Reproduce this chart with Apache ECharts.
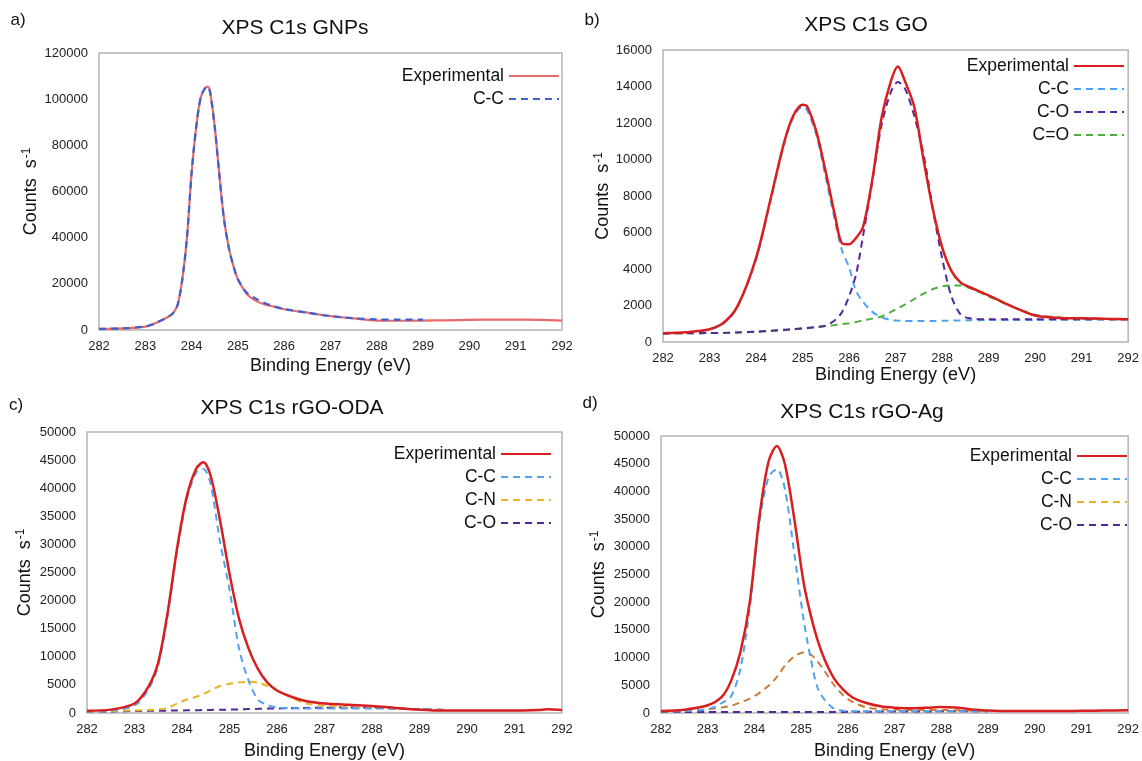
<!DOCTYPE html>
<html><head><meta charset="utf-8">
<script src="https://cdn.jsdelivr.net/npm/echarts@6/dist/echarts.min.js"></script>
<style>html,body{margin:0;padding:0;background:#fff}#c{width:1142px;height:761px}</style>
</head><body><div id="c"></div>
<script>
// ---------- Panel a : XPS C1s GNPs ----------
const aX   = [282, 282.5, 283, 283.2, 283.4, 283.5, 283.6, 283.7, 283.8, 283.9, 284.0, 284.1, 284.2, 284.3, 284.35, 284.4, 284.5, 284.6, 284.7, 284.8, 284.9, 285.0, 285.2, 285.4, 285.6, 285.8, 286, 286.5, 287, 287.5, 288, 288.5, 289, 289.5, 290, 290.5, 291, 291.5, 292];
const aExp = [500, 700, 1500, 2800, 4700, 5800, 7300, 11000, 22000, 40000, 68000, 88000, 101000, 105000, 105300, 103000, 88000, 67000, 48000, 36000, 28000, 22000, 15500, 12500, 11000, 10000, 9000, 7500, 6000, 5000, 4100, 4000, 4100, 4200, 4400, 4500, 4500, 4400, 4100];
const aCCX = [282, 282.5, 283, 283.2, 283.4, 283.5, 283.6, 283.7, 283.8, 283.9, 284.0, 284.1, 284.2, 284.3, 284.35, 284.4, 284.5, 284.6, 284.7, 284.8, 284.9, 285.0, 285.2, 285.4, 285.6, 285.8, 286, 286.5, 287, 287.5, 288, 288.5, 289];
const aCC  = [500, 700, 1500, 2800, 4700, 5800, 7300, 11000, 22000, 40000, 68000, 88000, 101000, 105000, 105300, 103000, 88000, 67000, 48000, 36000, 28000, 22000, 16000, 13500, 11500, 10200, 9100, 7500, 6000, 5100, 4600, 4500, 4500];

// ---------- Panel b : XPS C1s GO ----------
const bX   = [282, 282.5, 283, 283.3, 283.6, 284, 284.3, 284.6, 284.8, 285, 285.1, 285.3, 285.5, 285.7, 285.85, 286, 286.15, 286.3, 286.5, 286.7, 286.9, 287.05, 287.2, 287.4, 287.6, 287.8, 288, 288.2, 288.4, 288.6, 289, 289.5, 290, 290.5, 291, 291.5, 292];
const bExp = [480, 540, 700, 1050, 1950, 4600, 7700, 10900, 12400, 13000, 12900, 11500, 9300, 6900, 5400, 5350, 5700, 6300, 8900, 12300, 14300, 15100, 14300, 12900, 10000, 7300, 5200, 3900, 3250, 3000, 2550, 1950, 1450, 1320, 1300, 1270, 1250];
const bCC  = [470, 510, 680, 1000, 1900, 4500, 7600, 10800, 12300, 12900, 12700, 11300, 9000, 6600, 5000, 4100, 2800, 2200, 1650, 1350, 1200, 1170, 1150, 1150, 1150, 1150, 1160, 1170, 1180, 1190, 1200, 1200, 1210, 1220, 1220, 1230, 1230];
const bCO  = [470, 480, 490, 500, 520, 570, 610, 670, 710, 750, 770, 820, 900, 1200, 1650, 2500, 3700, 5800, 8800, 11900, 13700, 14250, 13900, 12400, 10300, 7300, 4600, 2500, 1500, 1300, 1250, 1250, 1250, 1250, 1250, 1250, 1250];
const bCdO = [470, 480, 490, 500, 520, 560, 600, 650, 690, 730, 750, 810, 870, 930, 980, 1030, 1100, 1180, 1280, 1400, 1650, 1850, 2050, 2350, 2650, 2900, 3050, 3100, 3100, 2950, 2500, 1950, 1500, 1350, 1300, 1270, 1250];

// ---------- Panel c : XPS C1s rGO-ODA ----------
const cX   = [282, 282.5, 283, 283.3, 283.5, 283.7, 283.9, 284.1, 284.3, 284.45, 284.6, 284.8, 285, 285.2, 285.4, 285.6, 285.8, 286, 286.3, 286.6, 287, 287.5, 288, 288.5, 289, 289.5, 290, 290.5, 291, 291.5, 291.7, 292];
const cExp = [400, 600, 1700, 4800, 9000, 18000, 29500, 38500, 43500, 44600, 42300, 34300, 24800, 16800, 11500, 7800, 5400, 4000, 2900, 2150, 1700, 1450, 1250, 900, 600, 450, 450, 450, 450, 550, 650, 550];
const cCX  = [282, 282.5, 283, 283.3, 283.5, 283.7, 283.9, 284.1, 284.3, 284.45, 284.6, 284.8, 285, 285.2, 285.4, 285.6, 285.8, 286, 286.3, 286.6, 287, 287.5, 288, 288.5, 289, 289.5];
const cCC  = [300, 450, 1300, 4300, 8500, 17500, 29000, 38000, 42800, 43400, 40800, 30500, 22000, 11500, 5800, 2400, 1400, 1000, 850, 800, 800, 800, 800, 750, 700, 600];
const cCN  = [300, 350, 450, 550, 650, 900, 1700, 2400, 2900, 3400, 4000, 4800, 5200, 5450, 5550, 5400, 4800, 4000, 2750, 1750, 1300, 1000, 850, 750, 700, 600];
const cCO  = [250, 280, 350, 380, 400, 420, 440, 470, 500, 520, 550, 580, 600, 650, 700, 740, 780, 800, 850, 900, 950, 980, 1000, 850, 650, 500];

// ---------- Panel d : XPS C1s rGO-Ag ----------
const dX   = [282, 282.5, 283, 283.3, 283.5, 283.7, 283.9, 284.1, 284.3, 284.48, 284.65, 284.85, 285.05, 285.2, 285.35, 285.5, 285.7, 285.9, 286.1, 286.4, 286.7, 287, 287.4, 287.7, 288, 288.3, 288.6, 289, 289.5, 290, 290.5, 291, 291.5, 292];
const dExp = [360, 600, 1400, 2900, 5800, 11000, 20000, 35000, 45300, 48200, 45000, 35200, 23700, 17800, 13200, 9700, 6300, 4200, 2800, 1800, 1200, 950, 850, 950, 1100, 1000, 700, 450, 350, 350, 350, 400, 450, 500];
const dCX  = [282, 282.5, 283, 283.3, 283.5, 283.7, 283.9, 284.1, 284.3, 284.48, 284.65, 284.85, 285.05, 285.2, 285.35, 285.5, 285.7, 285.9, 286.1, 286.4, 286.7, 287, 287.4, 287.7, 288, 288.3, 288.6, 289];
const dCC  = [250, 350, 700, 1800, 3000, 8000, 19000, 34000, 42500, 44000, 40500, 29000, 17000, 10000, 4600, 2400, 800, 400, 300, 300, 300, 300, 300, 300, 300, 300, 300, 300];
const dCN  = [250, 350, 650, 1000, 1300, 1900, 2600, 3600, 4900, 6500, 8500, 10200, 10900, 10600, 9300, 7600, 5100, 3200, 2000, 1000, 700, 600, 550, 550, 550, 500, 450, 350];
const dCO  = [200, 200, 200, 200, 200, 200, 200, 200, 200, 200, 200, 200, 200, 200, 200, 200, 200, 200, 220, 240, 250, 260, 270, 280, 300, 300, 300, 300];

// ---------- Text ----------
const titles = ['XPS C1s GNPs', 'XPS C1s GO', 'XPS C1s rGO-ODA', 'XPS C1s rGO-Ag'];
const panelTags = ['a)', 'b)', 'c)', 'd)'];
const xTicks = [282, 283, 284, 285, 286, 287, 288, 289, 290, 291, 292];
const xName = 'Binding Energy (eV)';

const FONT = "'Liberation Sans', Arial, Helvetica, sans-serif";
const RED = '#d81e1e', BLUE = '#4fa3ee', PURPLE = '#55279e', GREEN = '#4caf3c', YELLOW = '#eab322', ORANGE = '#cf7a35';
const zip = (xs, ys) => xs.map((x, i) => [x, ys[i]]);

const panels = [
  { grid: {left: 99, top: 53, width: 463, height: 277}, yMax: 120000, yInt: 20000, nameGap: 58, xNameGap: 27,
    legend: {right: 582, top: 67}, title: [295, 28], tag: [18, 20],
    series: [
      {name: 'Experimental', x: aX, y: aExp, color: '#e86a6a', w: 2.2, dash: false},
      {name: 'C-C', x: aCCX, y: aCC, color: '#3d5fd0', w: 2.2, dash: true}
    ], legendOrder: ['Experimental', 'C-C'] },
  { grid: {left: 663, top: 50, width: 468, height: 292}, yMax: 16000, yInt: 2000, nameGap: 50, xNameGap: 17,
    legend: {right: 17, top: 57}, title: [866, 25], tag: [592, 20],
    series: [
      {name: 'C-C', x: bX, y: bCC, color: BLUE, w: 2, dash: true},
      {name: 'C=O', x: bX, y: bCdO, color: GREEN, w: 2, dash: true},
      {name: 'C-O', x: bX, y: bCO, color: PURPLE, w: 2, dash: true},
      {name: 'Experimental', x: bX, y: bExp, color: RED, w: 2.5, dash: false}
    ], legendOrder: ['Experimental', 'C-C', 'C-O', 'C=O'] },
  { grid: {left: 87, top: 432, width: 475, height: 282}, yMax: 50000, yInt: 5000, nameGap: 52, xNameGap: 29,
    legend: {right: 590, top: 445}, title: [292, 408], tag: [16, 405],
    series: [
      {name: 'C-O', x: cCX, y: cCO, color: PURPLE, w: 2, dash: true},
      {name: 'C-N', x: cCX, y: cCN, color: YELLOW, w: 2, dash: true},
      {name: 'C-C', x: cCX, y: cCC, color: BLUE, w: 2, dash: true},
      {name: 'Experimental', x: cX, y: cExp, color: RED, w: 2.5, dash: false}
    ], legendOrder: ['Experimental', 'C-C', 'C-N', 'C-O'] },
  { grid: {left: 661, top: 436, width: 470, height: 278}, yMax: 50000, yInt: 5000, nameGap: 52, xNameGap: 29,
    legend: {right: 14, top: 447}, title: [862, 412], tag: [590, 403],
    series: [
      {name: 'C-O', x: dCX, y: dCO, color: PURPLE, w: 2, dash: true},
      {name: 'C-N', x: dCX, y: dCN, color: ORANGE, w: 2, dash: true, legendColor: YELLOW},
      {name: 'C-C', x: dCX, y: dCC, color: BLUE, w: 2, dash: true},
      {name: 'Experimental', x: dX, y: dExp, color: RED, w: 2.5, dash: false}
    ], legendOrder: ['Experimental', 'C-C', 'C-N', 'C-O'] }
];

const option = {
  backgroundColor: '#fff',
  animation: false,
  grid: [], xAxis: [], yAxis: [], series: [], legend: [], graphic: []
};

panels.forEach((p, i) => {
  option.grid.push(Object.assign({show: true, borderColor: '#b4b4b4', borderWidth: 1.5, backgroundColor: 'transparent'}, p.grid));
  option.xAxis.push({
    type: 'value', gridIndex: i, min: xTicks[0], max: xTicks[xTicks.length - 1], interval: 1,
    name: xName, nameLocation: 'middle', nameGap: p.xNameGap,
    nameTextStyle: {fontFamily: FONT, fontSize: 18, color: '#111'},
    axisLine: {show: false}, axisTick: {show: false}, splitLine: {show: false},
    axisLabel: {fontFamily: FONT, fontSize: 13, color: '#222', margin: 10, formatter: v => String(v)}
  });
  option.yAxis.push({
    type: 'value', gridIndex: i, min: 0, max: p.yMax, interval: p.yInt,
    name: '{n|Counts  s}{sup|-1}', nameLocation: 'middle', nameGap: p.nameGap, nameRotate: 90,
    nameTextStyle: {fontFamily: FONT, fontSize: 18, color: '#111',
      rich: {n: {fontFamily: FONT, fontSize: 18, color: '#111'},
             sup: {fontFamily: FONT, fontSize: 12, color: '#111', verticalAlign: 'top', padding: [0, 0, 8, 1]}}},
    axisLine: {show: false}, axisTick: {show: false}, splitLine: {show: false},
    axisLabel: {fontFamily: FONT, fontSize: 13, color: '#222', margin: 11, formatter: v => String(v)}
  });
  const tagKey = 'abcd'[i] + ':';
  p.series.forEach(s => {
    option.series.push({
      type: 'line', name: tagKey + s.name, xAxisIndex: i, yAxisIndex: i,
      data: zip(s.x, s.y), showSymbol: false, symbol: 'none',
      smooth: 0.3,
      lineStyle: {color: s.color, width: s.w, type: s.dash ? [7, 5] : 'solid'},
      itemStyle: {color: s.color}
    });
  });
  option.legend.push({
    orient: 'vertical', align: 'right', right: p.legend.right, top: p.legend.top,
    itemWidth: 50, itemHeight: 14, itemGap: 5, padding: 0,
    selectedMode: false,
    itemStyle: {opacity: 0, borderWidth: 0},
    formatter: n => n.split(':')[1],
    textStyle: {fontFamily: FONT, fontSize: 17.5, color: '#111', lineHeight: 18},
    data: p.legendOrder.map(nm => {
      const s = p.series.find(q => q.name === nm);
      const item = {name: tagKey + nm};
      if (s.legendColor) {
        item.lineStyle = {color: s.legendColor};
      }
      return item;
    })
  });
  option.graphic.push({
    type: 'text', x: p.title[0], y: p.title[1],
    style: {text: titles[i], font: '21px ' + FONT, fill: '#111', textAlign: 'center', textVerticalAlign: 'middle'}
  });
  option.graphic.push({
    type: 'text', x: p.tag[0], y: p.tag[1],
    style: {text: panelTags[i], font: '17px ' + FONT, fill: '#111', textAlign: 'center', textVerticalAlign: 'middle'}
  });
});

const chart = echarts.init(document.getElementById('c'), null, {renderer: 'canvas'});
chart.setOption(option);
</script></body></html>
